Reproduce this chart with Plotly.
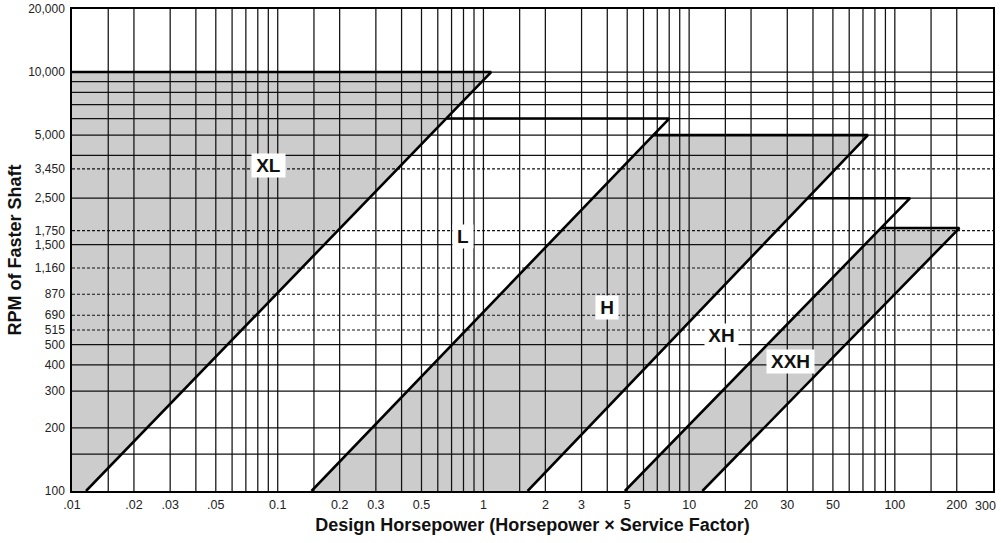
import math
import plotly.graph_objects as go

# ---------------- data ----------------
belts = ["XL", "L", "H", "XH", "XXH"]
hp_at_100rpm = [0.0117, 0.146, 1.64, 4.87, 11.6]      # design hp where each section's edge meets 100 rpm
max_rpm = [10000, 6000, 5000, 2500, 1800]             # top rpm limit of each section
hp_at_max_rpm = [1.09, 8.0, 74, 118.6, 206]           # design hp at the top-right corner
shaded = [True, False, True, False, True]

label_hp = [0.09, 0.80, 4.0, 14.4, 31.2]
label_rpm = [3600, 1640, 755, 551, 417]

x_tickvals = [0.01, 0.02, 0.03, 0.05, 0.1, 0.2, 0.3, 0.5, 1, 2, 3, 5, 10, 20, 30, 50, 100, 200]
x_ticktext = [".01", ".02", ".03", ".05", "0.1", "0.2", "0.3", "0.5", "1", "2", "3", "5",
              "10", "20", "30", "50", "100", "200"]
x_end_label = "300"   # right-edge label, nudged inside the page as in the reference

y_ticklabels = ["100", "200", "300", "400", "500", "515", "690", "870", "1,160", "1,500",
                "1,750", "2,500", "3,450", "5,000", "10,000", "20,000"]
y_tickvals = [100, 200, 300, 400, 500, 587, 690, 870, 1160, 1500, 1750, 2500, 3450, 5000, 10000, 20000]
# (the reference chart draws its 515-rpm line midway between 500 and 690 so its label stays legible)

decade_mult = [1, 1.5, 2, 3, 4, 5, 6, 7, 8, 9]
decades = [0.01, 0.1, 1, 10, 100]
grid_rpm_solid = [150, 200, 300, 400, 500, 1500, 2500, 4000, 5000, 6000, 7000, 8000, 9000, 10000]
grid_rpm_dashed = [587, 690, 870, 1160, 1750, 3450]

X_MIN, X_MAX = 0.01, 300
Y_MIN, Y_MAX = 100, 20000

FONT = "Liberation Sans, Arial, Helvetica, sans-serif"
GRAY = "#cccccc"
INK = "#111111"


def diag_hp(i, rpm):
    """hp on section i's sloped edge at a given rpm (straight line in log-log)."""
    a = math.log10(hp_at_100rpm[i])
    b = math.log10(hp_at_max_rpm[i])
    t = (math.log10(rpm) - 2) / (math.log10(max_rpm[i]) - 2)
    return 10 ** (a + t * (b - a))


def left_edge(i, rpm):
    return X_MIN if i == 0 else diag_hp(i - 1, rpm)


fig = go.Figure()

# shaded regions
for i, name in enumerate(belts):
    if not shaded[i]:
        continue
    xs = [left_edge(i, 100), hp_at_100rpm[i], hp_at_max_rpm[i], left_edge(i, max_rpm[i]), left_edge(i, 100)]
    ys = [100, 100, max_rpm[i], max_rpm[i], 100]
    fig.add_trace(go.Scatter(x=xs, y=ys, fill="toself", fillcolor=GRAY, mode="none",
                             hoverinfo="skip", showlegend=False))

# vertical grid
gx, gy = [], []
for d in decades:
    for m in decade_mult:
        v = d * m
        if X_MIN < v < X_MAX and v <= 200:
            gx += [v, v, None]
            gy += [Y_MIN, Y_MAX, None]
fig.add_trace(go.Scatter(x=gx, y=gy, mode="lines", line=dict(color=INK, width=1.25),
                         hoverinfo="skip", showlegend=False))

# horizontal solid grid
hx, hy = [], []
for r in grid_rpm_solid:
    hx += [X_MIN, X_MAX, None]
    hy += [r, r, None]
fig.add_trace(go.Scatter(x=hx, y=hy, mode="lines", line=dict(color=INK, width=1.25),
                         hoverinfo="skip", showlegend=False))

# horizontal dashed grid
dx, dy = [], []
for r in grid_rpm_dashed:
    dx += [X_MIN, X_MAX, None]
    dy += [r, r, None]
fig.add_trace(go.Scatter(x=dx, y=dy, mode="lines", line=dict(color=INK, width=1.1, dash="3px,2px"),
                         hoverinfo="skip", showlegend=False))

# section boundaries
for i, name in enumerate(belts):
    xs = [left_edge(i, max_rpm[i]), hp_at_max_rpm[i], hp_at_100rpm[i]]
    ys = [max_rpm[i], max_rpm[i], 100]
    fig.add_trace(go.Scatter(x=xs, y=ys, mode="lines", line=dict(color="black", width=2.6),
                             hoverinfo="skip", showlegend=False))

label_w = [33, 20, 22, 33, 47]
for i, name in enumerate(belts):
    fig.add_annotation(x=math.log10(label_hp[i]), y=math.log10(label_rpm[i]), xref="x", yref="y",
                       text=name, showarrow=False, bgcolor="white", width=label_w[i], height=23,
                       borderpad=0,
                       font=dict(family=FONT, size=19, color="#111", weight="bold"))

# right-end x label
fig.add_annotation(x=math.log10(X_MAX), y=0, xref="x", yref="paper", text=x_end_label,
                   showarrow=False, xanchor="center", yanchor="top", xshift=-7, yshift=-7,
                   borderpad=0, font=dict(family=FONT, size=12.5, color="#222"))

fig.update_xaxes(type="log", range=[math.log10(X_MIN) - 1e-4, math.log10(X_MAX) + 1e-4],
                 tickmode="array", tickvals=x_tickvals, ticktext=x_ticktext,
                 showgrid=False, zeroline=False, showline=True, mirror=True,
                 linecolor="black", linewidth=1.5, ticks="", ticklabelstandoff=1,
                 tickfont=dict(family=FONT, size=12.5, color="#222"),
                 title=dict(text="Design Horsepower (Horsepower × Service Factor)", standoff=8,
                            font=dict(family=FONT, size=18, color="#111", weight="bold")))
fig.update_yaxes(type="log", range=[math.log10(Y_MIN) - 1e-4, math.log10(Y_MAX) + 1e-4],
                 tickmode="array", tickvals=y_tickvals, ticktext=y_ticklabels,
                 ticklabeloverflow="allow",
                 showgrid=False, zeroline=False, showline=True, mirror=True,
                 linecolor="black", linewidth=1.5, ticks="", ticklabelstandoff=3,
                 tickfont=dict(family=FONT, size=12, color="#222"),
                 title=dict(text="RPM of Faster Shaft", standoff=2,
                            font=dict(family=FONT, size=18, color="#111", weight="bold")))

fig.update_layout(width=1001, height=543, margin=dict(l=72, r=8, t=9, b=52, autoexpand=False),
                  plot_bgcolor="white", paper_bgcolor="white", showlegend=False)

fig.write_html("out.html", config={"displayModeBar": False},
               post_script="document.body.style.margin='0';document.body.style.overflow='hidden';")
